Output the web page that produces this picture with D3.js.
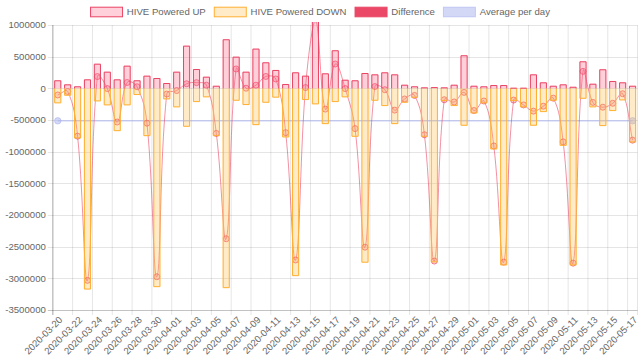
<!DOCTYPE html>
<html>
<head>
<meta charset="utf-8">
<script src="https://cdn.jsdelivr.net/npm/d3@7"></script>
<style>
  body { margin: 0; background: #fff; }
  text { font-family: "Liberation Sans", Arial, sans-serif; fill: #666; }
</style>
</head>
<body>
<div id="chart"></div>
<script>
var dates = [
  "2020-03-20", "2020-03-21", "2020-03-22", "2020-03-23", "2020-03-24", "2020-03-25",
  "2020-03-26", "2020-03-27", "2020-03-28", "2020-03-29", "2020-03-30", "2020-03-31",
  "2020-04-01", "2020-04-02", "2020-04-03", "2020-04-04", "2020-04-05", "2020-04-06",
  "2020-04-07", "2020-04-08", "2020-04-09", "2020-04-10", "2020-04-11", "2020-04-12",
  "2020-04-13", "2020-04-14", "2020-04-15", "2020-04-16", "2020-04-17", "2020-04-18",
  "2020-04-19", "2020-04-20", "2020-04-21", "2020-04-22", "2020-04-23", "2020-04-24",
  "2020-04-25", "2020-04-26", "2020-04-27", "2020-04-28", "2020-04-29", "2020-04-30",
  "2020-05-01", "2020-05-02", "2020-05-03", "2020-05-04", "2020-05-05", "2020-05-06",
  "2020-05-07", "2020-05-08", "2020-05-09", "2020-05-10", "2020-05-11", "2020-05-12",
  "2020-05-13", "2020-05-14", "2020-05-15", "2020-05-16", "2020-05-17"
];

var poweredUp = [
  127000, 63000, 32000, 142000, 389000, 263000, 142000, 358000, 127000, 200000,
  163000, 84000, 263000, 674000, 305000, 184000, 41000, 775000, 500000, 263000,
  627000, 411000, 290000, 68000, 253000, 200000, 1350000, 237000, 601000, 136000,
  127000, 242000, 221000, 253000, 221000, 57000, 32000, 16000, 20000, 16000,
  57000, 522000, 41000, 32000, 52000, 52000, 10000, 10000, 221000, 95000,
  41000, 63000, 25000, 427000, 73000, 301000, 116000, 95000, 41000
];

var poweredDown = [
  -237000, -117000, -791000, -3177000, -206000, -269000, -676000, -269000, -106000, -755000,
  -3139000, -174000, -300000, -607000, -217000, -142000, -755000, -3155000, -196000, -264000,
  -581000, -228000, -147000, -775000, -2965000, -185000, -253000, -565000, -217000, -142000,
  -765000, -2753000, -196000, -280000, -565000, -228000, -149000, -765000, -2747000, -201000,
  -280000, -591000, -396000, -237000, -965000, -2796000, -201000, -300000, -591000, -375000,
  -196000, -908000, -2796000, -165000, -300000, -596000, -359000, -190000, -854000
];

var difference = [
  -105000, -50000, -755000, -3032000, 186000, -4000, -532000, 92000, 25000, -550000,
  -2975000, -90000, -35000, 72000, 90000, 50000, -712000, -2375000, 306000, 2000,
  50000, 188000, 148000, -700000, -2710000, 12000, 1097000, -328000, 384000, -4000,
  -636000, -2508000, 28000, -22000, -344000, -168000, -112000, -733000, -2727000, -180000,
  -215000, -64000, -350000, -200000, -910000, -2744000, -185000, -262000, -360000, -282000,
  -155000, -845000, -2760000, 268000, -222000, -298000, -236000, -85000, -818000
];

var avgDates = ["2020-03-20", "2020-05-17"];
var avgValues = [-513000, -513000];

var yTicks = [1000000, 500000, 0, -500000, -1000000, -1500000, -2000000, -2500000, -3000000, -3500000];

var legendItems = [
  {label: "HIVE Powered UP", fill: "rgba(255,99,132,0.3)", stroke: "rgb(234,68,100)"},
  {label: "HIVE Powered DOWN", fill: "rgba(255,190,70,0.3)", stroke: "rgb(255,176,50)"},
  {label: "Difference", fill: "rgb(234,72,102)", stroke: "rgb(234,72,102)"},
  {label: "Average per day", fill: "rgba(170,178,240,0.5)", stroke: "rgba(170,178,240,0.6)"}
];

var svgWidth = 640;
var svgHeight = 361;

var margin = {top: 25, right: 2.5, bottom: 51, left: 52.8};
var width = svgWidth - margin.left - margin.right;
var height = svgHeight - margin.top - margin.bottom;

var svg = d3.select("#chart")
  .append("svg")
  .attr("width", svgWidth)
  .attr("height", svgHeight);

var chartGroup = svg.append("g")
  .attr("transform", `translate(${margin.left}, ${margin.top})`);

var x = d3.scaleBand().domain(dates).range([0, width]);
var y = d3.scaleLinear().domain([-3500000, 1000000]).range([height, 0]);
var bw = x.bandwidth();
var barW = bw * 0.72;

chartGroup.append("clipPath")
  .attr("id", "plot-clip")
  .append("rect")
  .attr("x", -1)
  .attr("y", -3)
  .attr("width", width + 2)
  .attr("height", height + 4);

// grid
chartGroup.selectAll(".hgrid")
  .data(yTicks)
  .enter()
  .append("line")
  .attr("x1", -5)
  .attr("x2", width)
  .attr("y1", d => Math.round(y(d)) + 0.5)
  .attr("y2", d => Math.round(y(d)) + 0.5)
  .attr("stroke", "rgba(0,0,0,0.1)");

var vgrid = dates.filter((d, i) => i % 2 === 0).map(d => x(d)).concat([width]);
chartGroup.selectAll(".vgrid")
  .data(vgrid)
  .enter()
  .append("line")
  .attr("x1", d => d)
  .attr("x2", d => d)
  .attr("y1", 0)
  .attr("y2", height + 5)
  .attr("stroke", "rgba(0,0,0,0.1)");

chartGroup.append("line")
  .attr("x1", 0).attr("x2", 0)
  .attr("y1", 0).attr("y2", height + 5)
  .attr("stroke", "rgba(0,0,0,0.18)")
  .attr("stroke-width", 1.5);

chartGroup.append("line")
  .attr("x1", -5).attr("x2", width)
  .attr("y1", height + 0.5).attr("y2", height + 0.5)
  .attr("stroke", "rgba(0,0,0,0.15)");

// axis labels
chartGroup.selectAll(".ylabel")
  .data(yTicks)
  .enter()
  .append("text")
  .attr("x", -7)
  .attr("y", d => y(d))
  .attr("dy", "0.35em")
  .attr("text-anchor", "end")
  .attr("font-size", "9.6px")
  .text(d => d);

chartGroup.selectAll(".xlabel")
  .data(dates.filter((d, i) => i % 2 === 0))
  .enter()
  .append("text")
  .attr("transform", d => `translate(${x(d) + bw / 2 + 3}, ${height + 8}) rotate(-45)`)
  .attr("dy", "0.35em")
  .attr("text-anchor", "end")
  .attr("font-size", "9.6px")
  .text(d => d);

var plot = chartGroup.append("g").attr("clip-path", "url(#plot-clip)");

// average per day
var avgPts = avgDates.map((d, i) => ({x: x(d) + bw / 2, y: y(avgValues[i])}));
plot.append("path")
  .attr("d", d3.line().x(d => d.x).y(d => d.y)(avgPts))
  .attr("fill", "none")
  .attr("stroke", "rgba(170,178,240,0.6)")
  .attr("stroke-width", 1.5);
plot.selectAll(".avgpt")
  .data(avgPts)
  .enter()
  .append("circle")
  .attr("cx", d => d.x)
  .attr("cy", d => d.y)
  .attr("r", 3.2)
  .attr("fill", "rgba(170,178,240,0.5)")
  .attr("stroke", "rgba(170,178,240,0.6)");

// difference line, chart.js style spline
function splinePath(pts, t) {
  var cps = pts.map(function(p, i) {
    var prev = pts[i - 1] || p;
    var next = pts[i + 1] || p;
    var d01 = Math.hypot(p.x - prev.x, p.y - prev.y);
    var d12 = Math.hypot(next.x - p.x, next.y - p.y);
    var s01 = d01 / (d01 + d12) || 0;
    var s12 = d12 / (d01 + d12) || 0;
    var fa = t * s01, fb = t * s12;
    var c = {
      px: p.x - fa * (next.x - prev.x), py: p.y - fa * (next.y - prev.y),
      nx: p.x + fb * (next.x - prev.x), ny: p.y + fb * (next.y - prev.y)
    };
    c.px = Math.max(0, Math.min(width, c.px));
    c.nx = Math.max(0, Math.min(width, c.nx));
    c.py = Math.max(0, Math.min(height, c.py));
    c.ny = Math.max(0, Math.min(height, c.ny));
    return c;
  });
  var path = d3.path();
  path.moveTo(pts[0].x, pts[0].y);
  for (var i = 1; i < pts.length; i++) {
    path.bezierCurveTo(cps[i - 1].nx, cps[i - 1].ny, cps[i].px, cps[i].py, pts[i].x, pts[i].y);
  }
  return path.toString();
}

var diffPts = dates.map((d, i) => ({x: x(d) + bw / 2, y: y(difference[i])}));
plot.append("path")
  .attr("d", splinePath(diffPts, 0.4))
  .attr("fill", "none")
  .attr("stroke", "rgba(234,72,102,0.6)")
  .attr("stroke-width", 1);
plot.selectAll(".diffpt")
  .data(diffPts)
  .enter()
  .append("circle")
  .attr("cx", d => d.x)
  .attr("cy", d => d.y)
  .attr("r", 3)
  .attr("fill", "rgba(245,110,130,0.3)")
  .attr("stroke", "rgba(234,72,102,0.7)")
  .attr("stroke-width", 1);

// bars, border skipped on the zero side
function drawBars(values, fill, stroke) {
  var g = plot.append("g");
  g.selectAll("rect")
    .data(values)
    .enter()
    .append("rect")
    .attr("x", (d, i) => x(dates[i]) + (bw - barW) / 2)
    .attr("y", d => Math.min(y(d), y(0)))
    .attr("width", barW)
    .attr("height", d => Math.abs(y(d) - y(0)))
    .attr("fill", fill);
  g.selectAll("path")
    .data(values)
    .enter()
    .append("path")
    .attr("d", function(d, i) {
      var x0 = x(dates[i]) + (bw - barW) / 2 + 0.5;
      var x1 = x0 + barW - 1;
      var y0 = y(0);
      var y1 = d >= 0 ? y(d) + 0.5 : y(d) - 0.5;
      return `M${x0},${y0}L${x0},${y1}L${x1},${y1}L${x1},${y0}`;
    })
    .attr("fill", "none")
    .attr("stroke", stroke)
    .attr("stroke-width", 1);
}

drawBars(poweredDown, legendItems[1].fill, legendItems[1].stroke);
drawBars(poweredUp, legendItems[0].fill, legendItems[0].stroke);

// legend
var legend = svg.append("g");
var cursor = 0;
legendItems.forEach(function(item) {
  var g = legend.append("g").attr("transform", `translate(${cursor}, 0)`);
  g.append("rect")
    .attr("x", 0.5)
    .attr("y", 7.2)
    .attr("width", 32)
    .attr("height", 9.6)
    .attr("fill", item.fill)
    .attr("stroke", item.stroke)
    .attr("stroke-width", 1);
  var t = g.append("text")
    .attr("x", 36.8)
    .attr("y", 12)
    .attr("dy", "0.35em")
    .attr("font-size", "9.6px")
    .text(item.label);
  cursor += 36.8 + t.node().getComputedTextLength() + 8;
});
legend.attr("transform", `translate(${(svgWidth - (cursor - 8)) / 2}, 0)`);
</script>
</body>
</html>
